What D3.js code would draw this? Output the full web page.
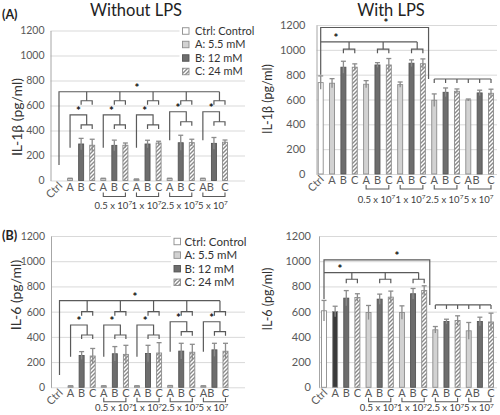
<!DOCTYPE html>
<html><head><meta charset="utf-8">
<script src="https://cdn.jsdelivr.net/npm/d3@7"></script>
<style>body{margin:0;background:#fff}svg{display:block;font-family:Lato,"Open Sans",sans-serif}</style>
</head><body><svg id="c" width="500" height="415"></svg>
<script>
// ---------- data ----------
const slotKeys   = ["Ctrl","A0","B0","C0","A1","B1","C1","A2","B2","C2","A3","B3","C3","A4","B4","C4"];
const slotLabels = ["Ctrl","A","B","C","A","B","C","A","B","C","A","B","C","A","B","C"];
const groupLabels = ["0.5 x 10","1 x 10","2.5 x 10","5 x 10"];
const groupExp = "7";
const yTicks = [0,200,400,600,800,1000,1200];
const legendLabels = ["Ctrl: Control","A: 5.5 mM","B: 12 mM","C: 24 mM"];
const legendKeys = ["Ctrl","A","B","C"];

const il1bNoLPS    = [0, 15,292,282, 15,281,282, 10,292,300, 15,302,303, 15,297,306];
const il1bNoLPSErr = [0,  3, 45, 48,  3, 42, 18,  2, 30, 14,  3, 60, 27,  3, 47, 18];
const il1bLPS      = [736,731,860,860, 723,878,878, 720,892,888, 594,658,666, 596,653,650];
const il1bLPSErr   = [ 54, 37, 48, 27,  29, 19, 52,  21, 27, 39,  51, 35, 19,   8, 22, 33];
const il6NoLPS     = [0, 10,252,248, 10,266,261, 10,268,272, 12,287,278, 10,297,286];
const il6NoLPSErr  = [0,  2, 31, 60,  2, 57, 72,  2, 65, 82,  2, 62, 63,  2, 52, 63];
const il6LPS       = [607,601,707,712, 593,699,715, 593,742,768, 456,522,530, 448,522,518];
const il6LPSErr    = [ 82, 42, 60, 30,  56, 40, 48,  53, 42, 37,  26, 18, 37,  66, 34, 70];

// ---------- drawing ----------
const svg = d3.select("#c");
const defs = svg.append("defs");
const pat = defs.append("pattern").attr("id","hatch").attr("patternUnits","userSpaceOnUse")
  .attr("width",4).attr("height",4);
pat.append("rect").attr("width",4).attr("height",4).attr("fill","#fff");
pat.append("path").attr("d","M-1,1 l2,-2 M0,4 l4,-4 M3,5 l2,-2")
  .attr("stroke","#8a8a8a").attr("stroke-width",1.4);

const fillFor = k => k==="Ctrl" ? "#ffffff" : k[0]==="A" ? "#d2d2d2" : k[0]==="B" ? "#6d6d6d" : "url(#hatch)";
const strokeFor = k => k[0]==="B" ? "#555" : "#8c8c8c";
const LINE = "#5a5a5a";

const panels = [
  {vals:il1bNoLPS, errs:il1bNoLPSErr, title:"Without LPS", titleX:136, titleY:16,
   axisX:50.5, y0:180.5, y1:30.5, xa:59, xb:225, gridR:245, tickFont:10.5, tickPad:6,
   brDy:16, grpDy:28,
   yTitle:"IL-1β (pg/ml)", yTitleX:17, yTitleY:117, yTitleFont:14,
   label:"(A)", labelY:19,
   legend:{x:182.5, y:31, dy:13.5, tx:195, font:11, box:6.5},
   type:"left", br:{top:710, ctrlBottom:125, topSub:638, starX:137,
     groups:[{a:262,h:525,s:445},{a:262,h:525,s:445},{a:262,h:525,s:445},{a:322,h:550,s:470},{a:322,h:550,s:470}]}},
  {vals:il1bLPS, errs:il1bLPSErr, title:"With LPS", titleX:391, titleY:16,
   axisX:316.5, y0:174, y1:25, xa:320.7, xb:491, gridR:497, tickFont:11, tickPad:11,
   brDy:15, grpDy:28.5,
   yTitle:"IL-1β (pg/ml)", yTitleX:268, yTitleY:99, yTitleFont:12.5,
   type:"right", br:{top:1180, ctrlBottom:800, topDrop:765, inner:1064, innerSub:1005, topStarX:386, innerStarX:336}},
  {vals:il6NoLPS, errs:il6NoLPSErr,
   axisX:51, y0:387.3, y1:236, xa:59.5, xb:225.5, gridR:245, tickFont:10.5, tickPad:6,
   brDy:14.5, grpDy:24,
   yTitle:"IL-6 (pg/ml)", yTitleX:16, yTitleY:295, yTitleFont:14,
   label:"(B)", labelY:240,
   legend:{x:174, y:241.5, dy:13.6, tx:184.5, font:11.5, box:6.5},
   type:"left", br:{top:687, ctrlBottom:98, topSub:600, starX:135,
     groups:[{a:243,h:494,s:415},{a:243,h:494,s:415},{a:243,h:494,s:415},{a:282,h:520,s:441},{a:282,h:520,s:441}]}},
  {vals:il6LPS, errs:il6LPSErr, darkSlots:["A0"],
   axisX:319, y0:387.3, y1:236, xa:324, xb:491, gridR:497, tickFont:11, tickPad:8,
   brDy:14.5, grpDy:24,
   yTitle:"IL-6 (pg/ml)", yTitleX:268, yTitleY:299, yTitleFont:12.5,
   type:"right", br:{top:1010, ctrlBottom:700, topDrop:653, inner:910, innerSub:857, topStarX:397, innerStarX:340}}
];

function drawPanel(p){
  const g = svg.append("g");
  const y = d3.scaleLinear().domain([0,1200]).range([p.y0,p.y1]);
  const x = d3.scalePoint().domain(slotKeys).range([p.xa,p.xb]);
  const mid = (a,b) => (x(a)+x(b))/2;

  // gridlines
  g.append("g").attr("transform",`translate(${p.axisX},0)`)
    .call(d3.axisLeft(y).tickValues(yTicks).tickSize(-(p.gridR-p.axisX)).tickFormat(""))
    .call(s=>s.select(".domain").remove())
    .call(s=>s.selectAll("line").attr("stroke","#d9d9d9").attr("stroke-width",1));
  // y axis labels + line
  g.append("g").attr("transform",`translate(${p.axisX},0)`)
    .call(d3.axisLeft(y).tickValues(yTicks).tickSize(0).tickPadding(p.tickPad).tickFormat(d3.format("d")))
    .call(s=>s.select(".domain").attr("stroke","#a6a6a6"))
    .call(s=>s.selectAll("text").attr("font-size",p.tickFont).attr("fill","#595959").attr("font-family","Lato"));

  // bars
  const data = slotKeys.map((k,i)=>({k, v:p.vals[i], e:p.errs[i]}));
  const bw = 5;
  g.selectAll("rect.bar").data(data).join("rect").attr("class","bar")
    .attr("x",d=>x(d.k)-bw/2).attr("width",bw)
    .attr("y",d=>y(d.v)).attr("height",d=>y(0)-y(d.v))
    .attr("fill",d=> (p.darkSlots||[]).includes(d.k) ? "#3a3a3a" : fillFor(d.k))
    .attr("stroke",d=>strokeFor(d.k)).attr("stroke-width",0.9);
  // error bars
  const eb = data.filter(d=>d.e>0);
  g.selectAll("line.err").data(eb).join("line").attr("class","err")
    .attr("x1",d=>x(d.k)).attr("x2",d=>x(d.k))
    .attr("y1",d=>y(Math.max(0,d.v-d.e))).attr("y2",d=>y(d.v+d.e))
    .attr("stroke","#8c8c8c").attr("stroke-width",1.3);
  g.selectAll("line.cap").data(eb).join("line").attr("class","cap")
    .attr("x1",d=>x(d.k)-2.5).attr("x2",d=>x(d.k)+2.5)
    .attr("y1",d=>y(d.v+d.e)).attr("y2",d=>y(d.v+d.e))
    .attr("stroke","#8c8c8c").attr("stroke-width",1.3);

  // x labels
  g.append("g").selectAll("text").data(slotKeys.slice(1)).join("text")
    .attr("x",(k,i)=>x(k) + (i===13 ? -3.5 : 0)).attr("y",p.y0+10)
    .attr("text-anchor","middle").attr("font-size",11).attr("fill","#595959").text((k,i)=>slotLabels[i+1]);
  g.append("text").attr("transform",`translate(${x("Ctrl")+4},${p.y0+6}) rotate(-45)`)
    .attr("text-anchor","end").attr("font-size",11).attr("fill","#595959").text(slotLabels[0]);
  // group brackets + labels
  groupLabels.forEach((lab,i)=>{
    const gi=i+1, xa=x("A"+gi), xc=x("C"+gi), yb=p.y0+p.brDy;
    g.append("path").attr("d",`M${xa},${yb-4}V${yb}H${xc}V${yb-4}`).attr("fill","none")
      .attr("stroke",LINE).attr("stroke-width",1.1);
    const t=g.append("text").attr("x",x("B"+gi)-1).attr("y",p.y0+p.grpDy).attr("text-anchor","middle")
      .attr("font-size",9.5).attr("fill","#404040");
    t.append("tspan").text(lab);
    t.append("tspan").attr("dy",-3.5).attr("font-size",6.5).text(groupExp);
  });

  // y title
  g.append("text").attr("transform",`translate(${p.yTitleX},${p.yTitleY}) rotate(-90)`)
    .attr("text-anchor","middle").attr("dy","0.35em").attr("font-size",p.yTitleFont).attr("fill","#333").text(p.yTitle);
  if(p.title) g.append("text").attr("x",p.titleX).attr("y",p.titleY).attr("text-anchor","middle")
    .attr("font-size",16.5).attr("fill","#222").text(p.title);
  if(p.label) g.append("text").attr("x",2).attr("y",p.labelY).attr("font-size",12.5)
    .attr("font-weight","bold").attr("fill","#222").text(p.label);

  // brackets
  const bg = g.append("g").attr("fill","none").attr("stroke",LINE).attr("stroke-width",1.2);
  const path = d => bg.append("path").attr("d",d);
  const star = (sx,sy) => g.append("text").attr("x",sx).attr("y",sy+4).attr("text-anchor","middle")
    .attr("font-size",11.5).attr("font-weight","bold").attr("fill","#111").text("*");
  const b = p.br;
  if(p.type==="left"){
    const xl = x("Ctrl"), mEnd = mid("B4","C4");
    path(`M${xl},${y(b.ctrlBottom)}V${y(b.top)}H${mEnd}`);
    star(b.starX, y(b.top)-4);
    for(let gi=0; gi<5; gi++){
      const m = mid("B"+gi,"C"+gi), xb=x("B"+gi), xc=x("C"+gi), xa=x("A"+gi);
      path(`M${m},${y(b.top)}V${y(b.topSub)}`);
      path(`M${xb},${y(b.topSub)+4}V${y(b.topSub)}H${xc}V${y(b.topSub)+4}`);
      const gr=b.groups[gi];
      path(`M${xa},${y(gr.a)}V${y(gr.h)}H${m}V${y(gr.s)}`);
      path(`M${xb},${y(gr.s)+4}V${y(gr.s)}H${xc}V${y(gr.s)+4}`);
      star((xa+m)/2, y(gr.h)-4);
    }
  } else {
    const xl = x("Ctrl"), mTop = mid("C2","A3");
    path(`M${xl},${y(b.ctrlBottom)}V${y(b.top)}H${mTop}V${y(b.topDrop)}`);
    path(`M${x("A3")},${y(b.topDrop)}H${x("C4")}`);
    slotKeys.slice(10).forEach(k=>path(`M${x(k)},${y(b.topDrop)}v4`));
    star(b.topStarX, y(b.top)-4);
    path(`M${xl},${y(b.inner)}H${mid("B2","C2")}`);
    for(let gi=0; gi<3; gi++){
      const m = mid("B"+gi,"C"+gi), xb=x("B"+gi), xc=x("C"+gi);
      path(`M${m},${y(b.inner)}V${y(b.innerSub)}`);
      path(`M${xb},${y(b.innerSub)+4}V${y(b.innerSub)}H${xc}V${y(b.innerSub)+4}`);
    }
    star(b.innerStarX, y(b.inner)-4);
  }

  // legend
  if(p.legend){
    const L=p.legend;
    g.append("rect").attr("x",L.x-3).attr("y",L.y-7).attr("width",252-L.x).attr("height",L.dy*3+14).attr("fill","#fff");
    legendKeys.forEach((k,i)=>{
      const cy=L.y+i*L.dy;
      g.append("rect").attr("x",L.x).attr("y",cy-L.box/2).attr("width",L.box).attr("height",L.box)
        .attr("fill",fillFor(k)).attr("stroke",strokeFor(k)).attr("stroke-width",0.9);
      g.append("text").attr("x",L.tx).attr("y",cy).attr("dy","0.36em").attr("font-size",L.font)
        .attr("fill","#333").text(legendLabels[i]);
    });
  }
}
panels.forEach(drawPanel);
</script></body></html>
